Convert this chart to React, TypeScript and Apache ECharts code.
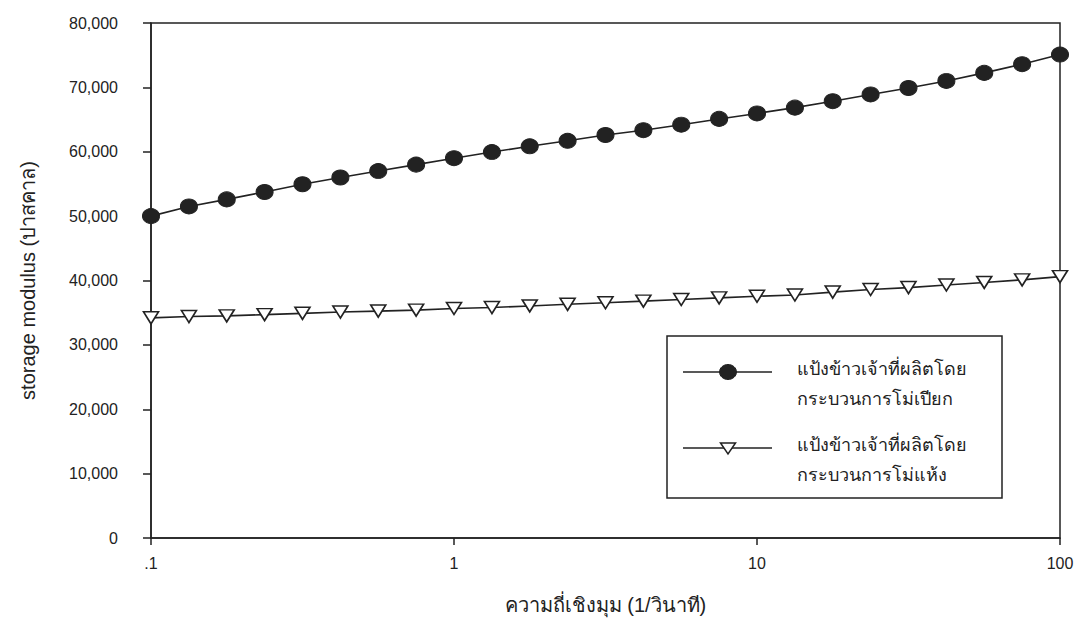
import React, { useEffect, useRef } from "react";
import * as echarts from "echarts";

// angular frequency (1/s), log spaced, 8 points per decade
const frequencies = [
  0.1, 0.1334, 0.1778, 0.2371, 0.3162, 0.4217, 0.5623, 0.7499,
  1, 1.334, 1.778, 2.371, 3.162, 4.217, 5.623, 7.499,
  10, 13.34, 17.78, 23.71, 31.62, 42.17, 56.23, 74.99, 100,
];

// storage modulus (Pa), wet-milled rice flour
const wetMilled = [
  50000, 51500, 52600, 53750, 54950, 56000, 57000, 58000,
  59000, 59950, 60850, 61700, 62600, 63350, 64200, 65100,
  65950, 66850, 67850, 68900, 69900, 71000, 72250, 73600, 75100,
];

// storage modulus (Pa), dry-milled rice flour
const dryMilled = [
  34200, 34400, 34500, 34700, 34900, 35100, 35250, 35400,
  35650, 35800, 36050, 36300, 36550, 36800, 37050, 37300,
  37550, 37750, 38200, 38600, 38900, 39300, 39700, 40100, 40600,
];

const xTickLabels: Record<string, string> = { "0.1": ".1", "1": "1", "10": "10", "100": "100" };

const wetName = ["แป้งข้าวเจ้าที่ผลิตโดย", "กระบวนการโม่เปียก"];
const dryName = ["แป้งข้าวเจ้าที่ผลิตโดย", "กระบวนการโม่แห้ง"];
const xTitle = "ความถี่เชิงมุม (1/วินาที)";
const yTitle = "storage modulus (ปาสคาล)";

const FONT = "'Liberation Sans', Arial, Helvetica, sans-serif";
const INK = "#222";

export default function App() {
  const ref = useRef<HTMLDivElement>(null);

  useEffect(() => {
    if (!ref.current) return;
    const chart = echarts.init(ref.current, undefined, { renderer: "svg" });

    const wetData = frequencies.map((f, i) => [f, wetMilled[i]]);
    const dryData = frequencies.map((f, i) => [f, dryMilled[i]]);

    chart.setOption({
      animation: false,
      backgroundColor: "#fff",
      textStyle: { fontFamily: FONT },
      grid: {
        left: 151,
        right: 21,
        top: 23,
        bottom: 96,
        show: true,
        borderColor: INK,
        borderWidth: 1.5,
        backgroundColor: "transparent",
      },
      xAxis: {
        type: "log",
        logBase: 10,
        min: 0.1,
        max: 100,
        name: xTitle,
        nameLocation: "middle",
        nameGap: 57,
        nameTextStyle: { fontSize: 20, color: INK, fontFamily: FONT },
        axisLine: { show: true, lineStyle: { color: INK, width: 1.5 } },
        axisTick: { show: true, inside: false, length: 7, lineStyle: { color: INK, width: 1.5 } },
        minorTick: { show: false },
        splitLine: { show: false },
        axisLabel: {
          fontSize: 16,
          color: INK,
          margin: 17,
          fontFamily: FONT,
          formatter: (v: number) => {
            const key = String(+v.toPrecision(6));
            return xTickLabels[key] ?? key;
          },
        },
      },
      yAxis: {
        type: "value",
        min: 0,
        max: 80000,
        interval: 10000,
        name: yTitle,
        nameLocation: "middle",
        nameGap: 113,
        nameRotate: 90,
        nameTextStyle: { fontSize: 20, color: INK, fontFamily: FONT },
        axisLine: { show: true, lineStyle: { color: INK, width: 1.5 } },
        axisTick: { show: true, inside: false, length: 8, lineStyle: { color: INK, width: 1.5 } },
        splitLine: { show: false },
        axisLabel: {
          fontSize: 16,
          color: INK,
          margin: 33,
          fontFamily: FONT,
          formatter: (v: number) => v.toLocaleString("en-US"),
        },
      },
      legend: { show: false },
      series: [
        {
          name: wetName.join(""),
          type: "line",
          data: wetData,
          symbol: "circle",
          symbolSize: [17, 15],
          lineStyle: { color: INK, width: 1.6 },
          itemStyle: { color: INK, borderColor: INK, borderWidth: 1 },
          z: 3,
        },
        {
          name: dryName.join(""),
          type: "line",
          data: dryData,
          symbol: "triangle",
          symbolRotate: 180,
          symbolSize: [15, 12],
          lineStyle: { color: INK, width: 1.6 },
          itemStyle: { color: "#fff", borderColor: INK, borderWidth: 1.6 },
          z: 3,
        },
      ],
      graphic: [
        {
          type: "rect",
          shape: { x: 667, y: 336, width: 335, height: 162 },
          style: { fill: "#fff", stroke: INK, lineWidth: 1.5 },
          z: 10,
        },
        {
          type: "line",
          shape: { x1: 683, y1: 372, x2: 772, y2: 372 },
          style: { stroke: INK, lineWidth: 1.5 },
          z: 11,
        },
        {
          type: "ellipse",
          shape: { cx: 728, cy: 372, rx: 8.5, ry: 7.5 },
          style: { fill: INK, stroke: INK, lineWidth: 1 },
          z: 12,
        },
        {
          type: "text",
          x: 797,
          y: 354,
          style: {
            text: wetName.join("\n"),
            fontSize: 18,
            lineHeight: 30,
            fill: INK,
            fontFamily: FONT,
          },
          z: 12,
        },
        {
          type: "line",
          shape: { x1: 683, y1: 448, x2: 772, y2: 448 },
          style: { stroke: INK, lineWidth: 1.5 },
          z: 11,
        },
        {
          type: "polygon",
          shape: { points: [[720.5, 443], [735.5, 443], [728, 454]] },
          style: { fill: "#fff", stroke: INK, lineWidth: 1.5 },
          z: 12,
        },
        {
          type: "text",
          x: 797,
          y: 430,
          style: {
            text: dryName.join("\n"),
            fontSize: 18,
            lineHeight: 30,
            fill: INK,
            fontFamily: FONT,
          },
          z: 12,
        },
      ],
    });

    return () => chart.dispose();
  }, []);

  return <div ref={ref} style={{ width: 1081, height: 634, position: "absolute", left: 0, top: 0 }} />;
}
